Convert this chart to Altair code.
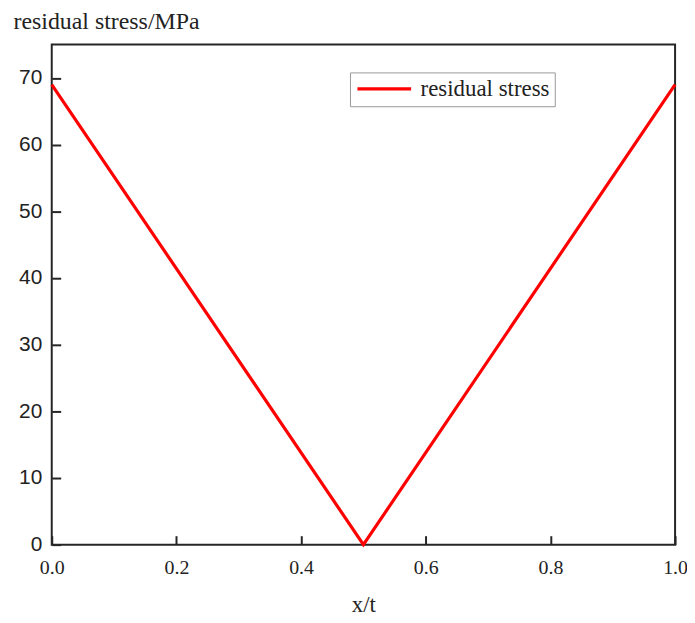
import altair as alt
import pandas as pd

x_vals = [0.0, 0.5, 1.0]
stress = [69, 0, 69]
series = ["residual stress"] * 3
x_ticks = [0.0, 0.2, 0.4, 0.6, 0.8, 1.0]
y_ticks = [0, 10, 20, 30, 40, 50, 60, 70]

df = pd.DataFrame({"x": x_vals, "y": stress, "series": series})

serif = "Liberation Serif"
sans = "Liberation Sans"

chart = alt.Chart(df).mark_line(strokeWidth=3.2).encode(
    x=alt.X("x:Q",
            scale=alt.Scale(domain=[0, 1], nice=False, zero=False),
            axis=alt.Axis(values=x_ticks, format=".1f", grid=False, domain=False,
                          offset=-9, tickSize=9, tickWidth=2, tickColor="#262626",
                          labelFont=serif, labelFontSize=20, labelColor="#222",
                          labelPadding=13, labelFlush=False, labelOverlap=False,
                          title="x/t", titleFont=serif, titleFontSize=23,
                          titleFontWeight="normal", titleColor="#222",
                          titleBaseline="alphabetic", titleY=76)),
    y=alt.Y("y:Q",
            scale=alt.Scale(domain=[0, 75], nice=False),
            axis=alt.Axis(values=y_ticks, format="d", grid=False, domain=False,
                          offset=-9, tickSize=9, tickWidth=2, tickColor="#262626",
                          labelFont=sans, labelFontSize=21, labelColor="#222",
                          labelPadding=10, labelFlush=False, labelOverlap=False,
                          title="residual stress/MPa", titleFont=serif, titleFontSize=24,
                          titleFontWeight="normal", titleColor="#222", titleAngle=0,
                          titleAlign="left", titleBaseline="alphabetic",
                          titleX=-48, titleY=-16)),
    color=alt.Color("series:N",
                    scale=alt.Scale(domain=["residual stress"], range=["#ff0000"]),
                    legend=alt.Legend(title=None, orient="none", legendX=300, legendY=28,
                                      symbolType="M-3,0H3", symbolSize=324,
                                      symbolOffset=18,
                                      symbolStrokeWidth=3.2, labelFont=serif,
                                      labelFontSize=23, labelColor="#222", labelOffset=25,
                                      padding=5, strokeColor="#999", fillColor="white",
                                      labelLimit=300)),
).properties(
    width=627, height=503,
    autosize=alt.AutoSizeParams(type="none"),
    padding={"left": 44, "top": 35, "right": 12, "bottom": 74},
).configure_view(stroke="#262626", strokeWidth=2)

chart.save("out.html", embed_options={"renderer": "svg", "actions": False})
